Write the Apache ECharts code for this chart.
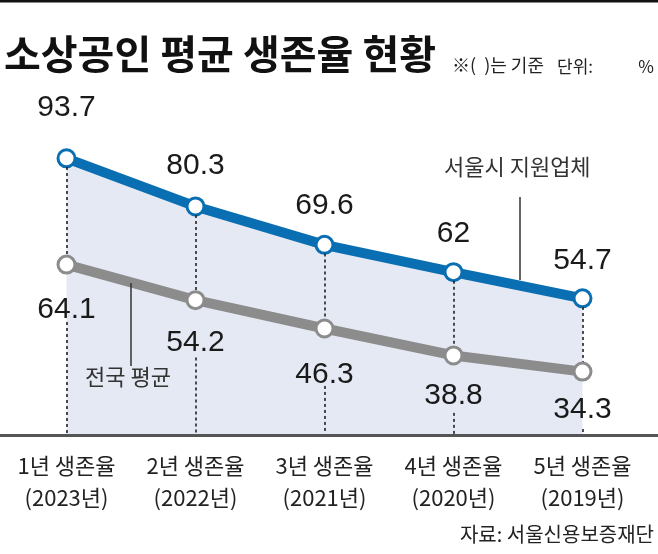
<!DOCTYPE html>
<html>
<head>
<meta charset="utf-8">
<script src="https://cdn.jsdelivr.net/npm/echarts@6/dist/echarts.min.js"></script>
<style>
html,body{margin:0;padding:0;background:#fff;}
#chart{width:658px;height:554px;}
</style>
</head>
<body>
<div id="chart"></div>
<script>
// ---- data ----
var stages = ['1년 생존율', '2년 생존율', '3년 생존율', '4년 생존율', '5년 생존율'];
var years = ['(2023년)', '(2022년)', '(2021년)', '(2020년)', '(2019년)'];
var seoulValues = [93.7, 80.3, 69.6, 62, 54.7];
var nationalValues = [64.1, 54.2, 46.3, 38.8, 34.3];

// ---- style ----
var Y_MIN = 16.5, Y_MAX = 110;
var NUM_FONT = '"Liberation Sans Narrow", "Liberation Sans", sans-serif';
var KR_FONT = '"Noto Sans CJK KR", "Noto Sans", sans-serif';
var BLUE = '#0a6fb2', GRAY = '#8c8c8c', FILL = '#e4e9f4';
var blueLabelDy = [-10, 0, 2, 3, 3];
var grayLabelDy = [2, 0, 3, -3, -5];
var LABEL_GAP = 16;
var MARKER_GAP = 2.4;

var categories = stages.map(function (s, i) { return s + '\n' + years[i]; });

var dashSegments = [];
seoulValues.forEach(function (v, i) {
  dashSegments.push([{ coord: [i, v - MARKER_GAP] }, { coord: [i, nationalValues[i]] }]);
  dashSegments.push([{ coord: [i, nationalValues[i] - LABEL_GAP] }, { coord: [i, Y_MIN] }]);
});

var chart = echarts.init(document.getElementById('chart'), null, { renderer: 'canvas' });
chart.setOption({
  animation: false,
  backgroundColor: '#fff',
  grid: { left: 2, right: 11, top: 99.8, bottom: 118.5, containLabel: false },
  xAxis: {
    type: 'category',
    data: categories,
    boundaryGap: true,
    axisLine: { show: true, lineStyle: { color: '#555', width: 3 } },
    axisTick: { show: false },
    axisLabel: {
      fontFamily: KR_FONT, fontSize: 22, color: '#222', lineHeight: 32, margin: 14,
      interval: 0
    },
    z: 10
  },
  yAxis: {
    type: 'value', min: Y_MIN, max: Y_MAX,
    show: false, splitLine: { show: false }
  },
  series: [
    {
      name: '서울시 지원업체',
      type: 'line',
      data: seoulValues.map(function (v, i) {
        return { value: v, label: { offset: [0, blueLabelDy[i]] } };
      }),
      z: 3,
      lineStyle: { color: BLUE, width: 10 },
      itemStyle: { color: '#fff', borderColor: BLUE, borderWidth: 3 },
      symbol: 'circle', symbolSize: 17, showAllSymbol: true,
      areaStyle: { color: FILL, opacity: 1, origin: 'start' },
      label: {
        show: true, position: 'top', distance: 16,
        fontFamily: NUM_FONT, fontSize: 30, color: '#1a1a1a'
      },
      markLine: {
        silent: true, symbol: ['none', 'none'],
        lineStyle: { color: '#222', width: 1.6, type: [3, 3], opacity: 1 },
        label: { show: false },
        emphasis: { disabled: true },
        data: dashSegments,
        z: 4
      }
    },
    {
      name: '전국 평균',
      type: 'line',
      data: nationalValues.map(function (v, i) {
        return { value: v, label: { offset: [0, grayLabelDy[i]] } };
      }),
      z: 5,
      lineStyle: { color: GRAY, width: 10 },
      itemStyle: { color: '#fff', borderColor: GRAY, borderWidth: 3 },
      symbol: 'circle', symbolSize: 17, showAllSymbol: true,
      label: {
        show: true, position: 'bottom', distance: 18,
        fontFamily: NUM_FONT, fontSize: 30, color: '#1a1a1a'
      }
    }
  ],
  graphic: [
    { type: 'rect', shape: { x: 0, y: 0, width: 658, height: 2.5 }, style: { fill: '#111' } },
    { type: 'text', left: 4, top: 34, style: { text: '소상공인 평균 생존율 현황', fontFamily: KR_FONT, fontSize: 40, fontWeight: 'bold', fill: '#111' } },
    { type: 'text', left: 452, top: 56, style: { text: '※(  )는 기준', fontFamily: KR_FONT, fontSize: 18, fill: '#222' } },
    { type: 'text', left: 557, top: 58, style: { text: '단위:', fontFamily: KR_FONT, fontSize: 17, fill: '#222' } },
    { type: 'text', right: 4, top: 58, style: { text: '%', fontFamily: KR_FONT, fontSize: 17, fill: '#222' } },
    { type: 'text', left: 444, top: 156, style: { text: '서울시 지원업체', fontFamily: KR_FONT, fontSize: 22, fill: '#333' } },
    { type: 'line', shape: { x1: 520, y1: 197, x2: 520, y2: 280 }, style: { stroke: '#333', lineWidth: 1.5 }, z: 20 },
    { type: 'text', left: 85, top: 366, style: { text: '전국 평균', fontFamily: KR_FONT, fontSize: 22, fill: '#333' }, z: 20 },
    { type: 'line', shape: { x1: 131, y1: 283, x2: 131, y2: 366 }, style: { stroke: '#333', lineWidth: 1.5 }, z: 20 },
    { type: 'line', shape: { x1: 0, y1: 435.5, x2: 658, y2: 435.5 }, style: { stroke: '#555', lineWidth: 3 }, z: 20 },
    { type: 'text', right: 4, top: 524, style: { text: '자료: 서울신용보증재단', fontFamily: KR_FONT, fontSize: 20, fill: '#222' } }
  ]
});
</script>
</body>
</html>
